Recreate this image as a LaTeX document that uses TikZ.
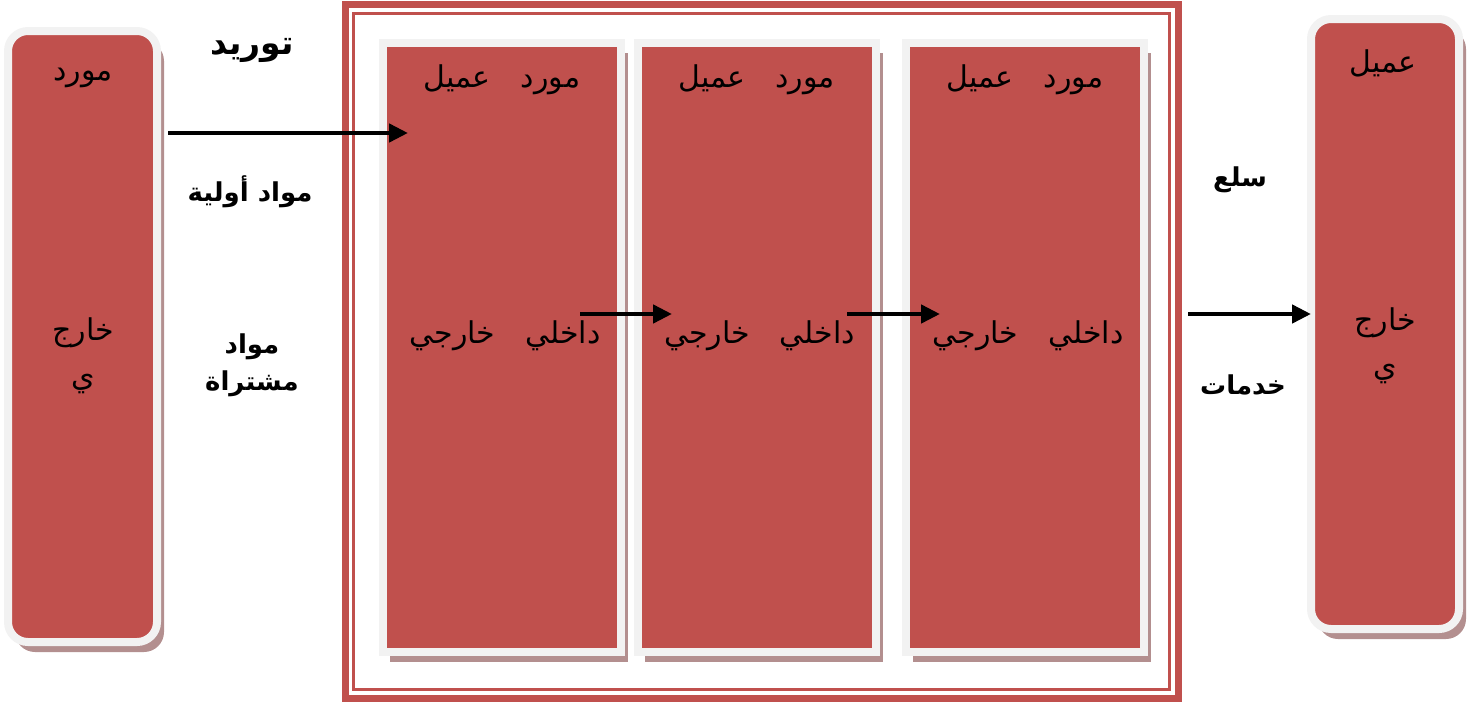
\documentclass[tikz,border=0pt]{standalone}
\usepackage{fontspec}
\usetikzlibrary{arrows.meta,shadows}
\TeXXeTstate=1
\newfontfamily\arabicfont[Script=Arabic]{DejaVu Sans}
\definecolor{boxred}{HTML}{C0504D}
\definecolor{rimwhite}{HTML}{F2F2F2}
\definecolor{boxshade}{HTML}{B38F8F}
\newcommand{\artext}[1]{\arabicfont\beginR #1\endR}

\begin{document}
\begin{tikzpicture}[x=1pt, y=-1pt, >={Triangle[length=19pt,width=18pt]},
    colbox/.style={fill=boxred, draw=rimwhite, line width=8pt, inner sep=0pt,
        drop shadow={shadow xshift=7pt, shadow yshift=-10pt, fill=boxshade, opacity=1}},
    roundbox/.style={colbox, rounded corners=20pt},
    plain/.style={font=\fontsize{30}{34}\selectfont},
    heavy/.style={font=\fontsize{26}{30}\selectfont\bfseries},
    flow/.style={->, line width=4.5pt}]
    \useasboundingbox (0,0) rectangle (1475,704);

    \node[roundbox, minimum width=149pt, minimum height=611pt] (supplier) at (82.5,336.5) {};
    \node[roundbox, minimum width=148pt, minimum height=610pt] (client) at (1385,324) {};

    \draw[boxred, line width=7pt] (345.5,4.5) rectangle (1178.5,698.5);
    \draw[boxred, line width=3pt] (353.5,13.5) rectangle (1169.5,689.5);

    \foreach \cx/\nm in {502/unitA, 756.5/unitB, 1025/unitC} {
        \node[colbox, minimum width=238pt, minimum height=609pt] (\nm) at (\cx,347.5) {};
        \node[plain] (\nm-top) at (\cx,80) {\artext{مورد\hspace{1em}عميل}};
        \node[plain] (\nm-mid) at (\cx+3,336) {\artext{داخلي\hspace{1em}خارجي}};
    }

    \node[plain] (supplier-name) at (83,78) {\artext{مورد}};
    \node[plain] (supplier-out) at (83,333) {\artext{خارج}};
    \node[plain] (supplier-tail) at (83,384) {\artext{ي}};
    \node[plain] (client-name) at (1383,63) {\artext{عميل}};
    \node[plain] (client-out) at (1385,323) {\artext{خارج}};
    \node[plain] (client-tail) at (1385,374) {\artext{ي}};

    \node[heavy, font=\fontsize{33}{37}\selectfont\bfseries] (supply) at (252,50) {\artext{توريد}};
    \node[heavy] (rawmat) at (250,192) {\artext{مواد أولية}};
    \node[heavy] (bought-a) at (252,347) {\artext{مواد}};
    \node[heavy] (bought-b) at (252,384) {\artext{مشتراة}};
    \node[heavy] (goods) at (1240,180) {\artext{سلع}};
    \node[heavy] (services) at (1243,385) {\artext{خدمات}};

    \coordinate (raw-from) at (168,133);
    \coordinate (raw-to) at (408,133);
    \coordinate (pass1-from) at (580,314);
    \coordinate (pass1-to) at (672,314);
    \coordinate (pass2-from) at (847,314);
    \coordinate (pass2-to) at (940,314);
    \coordinate (out-from) at (1188,314);
    \coordinate (out-to) at (1311,314);
    \draw[flow] (raw-from) -- (raw-to);
    \draw[flow] (pass1-from) -- (pass1-to);
    \draw[flow] (pass2-from) -- (pass2-to);
    \draw[flow] (out-from) -- (out-to);
\end{tikzpicture}
\end{document}
